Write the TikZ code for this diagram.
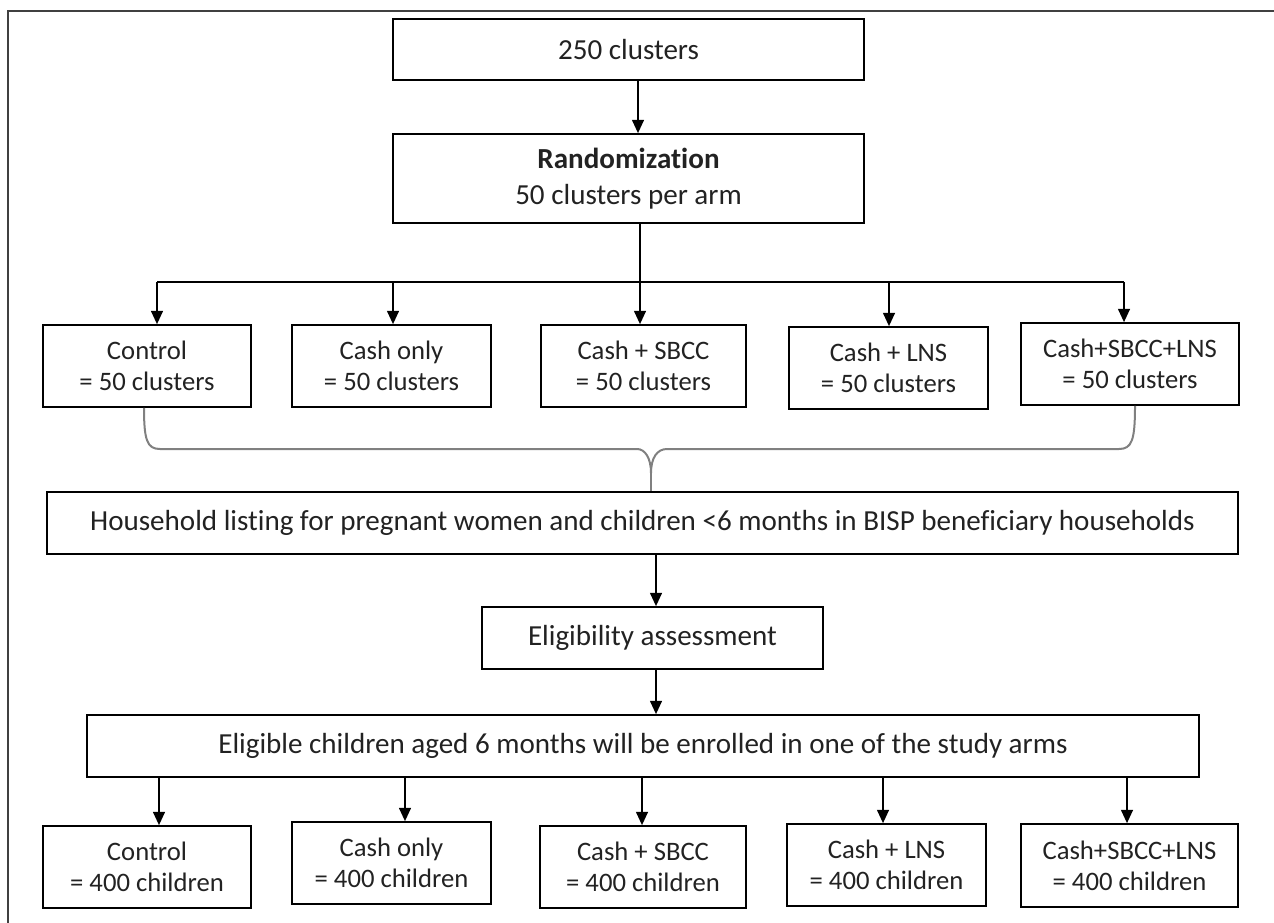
\documentclass[tikz,border=0pt]{standalone}
\usepackage{fontspec}
\setmainfont{Carlito}[Ligatures=NoCommon]
\usetikzlibrary{arrows.meta}
\definecolor{txt}{HTML}{222222}
\definecolor{bracec}{HTML}{808080}
\definecolor{framec}{HTML}{404040}
\tikzset{
  boxst/.style={draw=black, line width=1.3pt, inner sep=0pt, align=center, text=txt},
  bigtxt/.style={font=\fontsize{21.8}{27}\selectfont},
  smalltxt/.style={font=\fontsize{20}{23.5}\selectfont},
  arr/.style={line width=1.1pt, -{Triangle[width=9pt,length=10pt]}},
  plainline/.style={line width=1.1pt},
  brc/.style={draw=bracec, line width=1.5pt},
}
\newcommand\bx[7]{\node[boxst,#7, minimum width={(#4-#2)*0.75pt}, minimum height={(#5-#3)*0.75pt}] (#1) at ({(#2+#4)/2},{(#3+#5)/2}) {#6};}
\begin{document}
\begin{tikzpicture}[x=0.75pt,y=-0.75pt]
\useasboundingbox (0,0) rectangle (1274,923);
% frame
\draw[framec, line width=1.5pt] (8,930) -- (8,11) -- (1280,11);
% boxes
\bx{top}{393}{19}{864}{80}{250 clusters}{bigtxt}
\bx{rand}{393}{134}{864}{223}{\textbf{Randomization}\\50 clusters per arm}{bigtxt}
\bx{c1}{43}{325}{251}{407}{Control\\= 50 clusters}{smalltxt}
\bx{c2}{292}{325}{491}{407}{Cash only\\= 50 clusters}{smalltxt}
\bx{c3}{541}{325}{746}{407}{Cash + SBCC\\= 50 clusters}{smalltxt}
\bx{c4}{789}{327}{988}{409}{Cash + LNS\\= 50 clusters}{smalltxt}
\bx{c5}{1021}{323}{1239}{405}{Cash+SBCC+LNS\\= 50 clusters}{smalltxt}
\bx{hh}{47}{492}{1238}{554}{Household listing for pregnant women and children <6 months in BISP beneficiary households}{bigtxt}
\bx{el}{482}{607}{823}{669}{Eligibility assessment}{bigtxt}
\bx{en}{87}{715}{1199}{777}{Eligible children aged 6 months will be enrolled in one of the study arms}{bigtxt}
\bx{d1}{43}{826}{251}{908}{Control\\= 400 children}{smalltxt}
\bx{d2}{292}{822}{491}{904}{Cash only\\= 400 children}{smalltxt}
\bx{d3}{540}{826}{746}{908}{Cash + SBCC\\= 400 children}{smalltxt}
\bx{d4}{787}{824}{986}{906}{Cash + LNS\\= 400 children}{smalltxt}
\bx{d5}{1021}{824}{1238}{907}{Cash+SBCC+LNS\\= 400 children}{smalltxt}
% helper coordinates
\coordinate (xa) at (638,0);
\coordinate (j1) at (157,282);
\coordinate (j2) at (393,282);
\coordinate (j3) at (640,282);
\coordinate (j4) at (889,282);
\coordinate (j5) at (1124,282);
\coordinate (xm) at (656,0);
\coordinate (k1) at (159,0);
\coordinate (k2) at (405,0);
\coordinate (k3) at (642,0);
\coordinate (k4) at (883,0);
\coordinate (k5) at (1127,0);
\coordinate (bl) at (144,0);
\coordinate (br) at (1135,0);
\coordinate (bt) at (651,473);
% connectors
\draw[arr] (top.south -| xa) -- (rand.north -| xa);
\draw[plainline] (rand.south -| j3) -- (j3);
\draw[plainline] (j1) -- (j5);
\draw[arr] (j1) -- (c1.north -| j1);
\draw[arr] (j2) -- (c2.north -| j2);
\draw[arr] (j3) -- (c3.north -| j3);
\draw[arr] (j4) -- (c4.north -| j4);
\draw[arr] (j5) -- (c5.north -| j5);
% brace
\draw[brc] (c1.south -| bl) .. controls (144,440) and (147,449) .. (160,449) -- (637,449) .. controls (645,449) and (651,458) .. (bt);
\draw[brc] (c5.south -| br) .. controls (1135,440) and (1132,449) .. (1119,449) -- (667,449) .. controls (657,449) and (651,458) .. (bt);
\draw[brc] (bt) -- (hh.north -| bt);
% lower connectors
\draw[arr] (hh.south -| xm) -- (el.north -| xm);
\draw[arr] (el.south -| xm) -- (en.north -| xm);
\draw[arr] (en.south -| k1) -- (d1.north -| k1);
\draw[arr] (en.south -| k2) -- (d2.north -| k2);
\draw[arr] (en.south -| k3) -- (d3.north -| k3);
\draw[arr] (en.south -| k4) -- (d4.north -| k4);
\draw[arr] (en.south -| k5) -- (d5.north -| k5);
\end{tikzpicture}
\end{document}
